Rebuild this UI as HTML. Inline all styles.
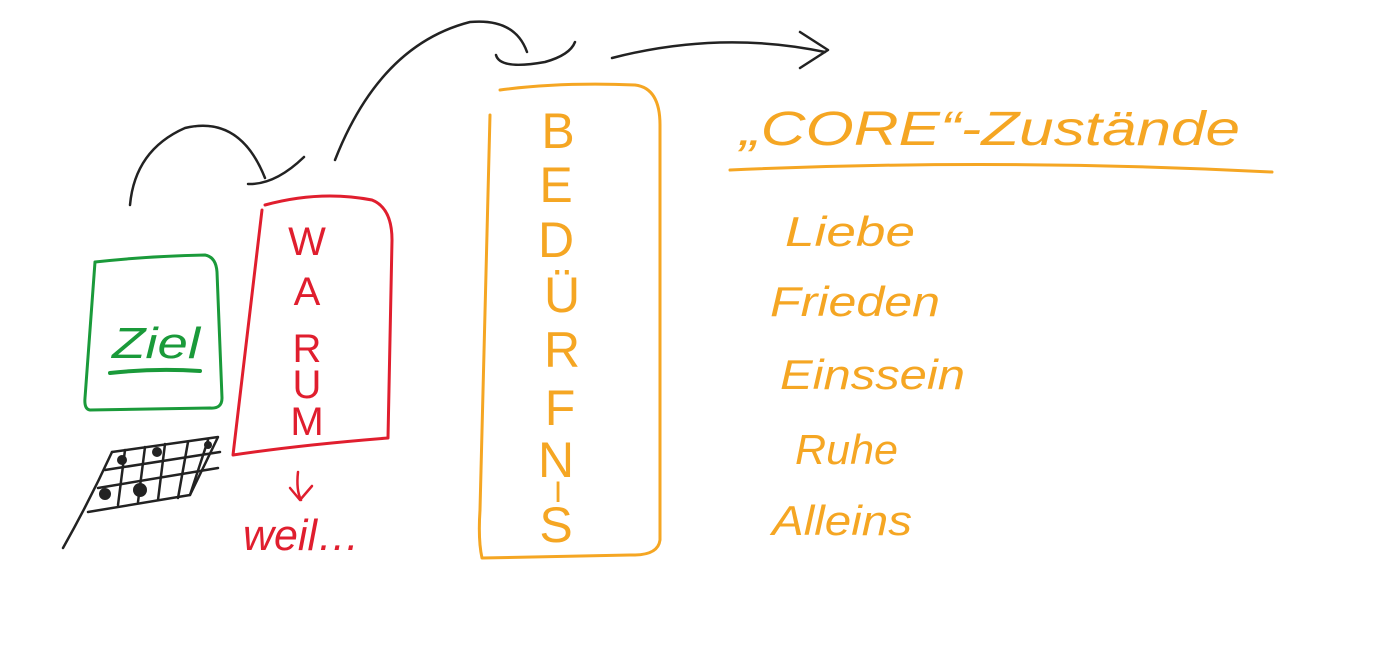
<!DOCTYPE html>
<html><head><meta charset="utf-8"><style>
html,body{margin:0;padding:0;background:#fff;width:1381px;height:649px;overflow:hidden}
svg{display:block}
text{font-family:"Liberation Sans",sans-serif}
</style></head><body>
<svg width="1381" height="649" viewBox="0 0 1381 649" xmlns="http://www.w3.org/2000/svg">
<g fill="none" stroke-linecap="round" stroke-linejoin="round">
<path d="M95,262 Q150,256 205,255 Q216,257 217,272 L222,398 Q222,409 210,408 L90,410 Q84,409 85,398 L95,262" stroke="#1a9a3a" stroke-width="3"/>
<path d="M110,373 Q155,368 200,371" stroke="#1a9a3a" stroke-width="4"/>
<path d="M265,205 Q320,190 372,200 Q392,208 392,240 L388,438 Q300,445 233,455 L262,210" stroke="#e01e2e" stroke-width="3"/>
<path d="M298,472 Q296,490 301,500 M290,488 L300,500 L312,486" stroke="#e01e2e" stroke-width="2.5"/>
<path d="M500,90 Q560,82 635,85 Q660,88 660,125 L660,540 Q658,556 630,555 L482,558 Q478,540 480,510 L490,115" stroke="#f5a623" stroke-width="3"/>
<path d="M730,170 Q1000,158 1272,172" stroke="#f5a623" stroke-width="3"/>
<path d="M130,205 Q135,150 185,128 Q240,115 265,178" stroke="#222" stroke-width="2.5"/>
<path d="M248,184 Q275,185 304,157" stroke="#222" stroke-width="2.5"/>
<path d="M335,160 Q380,45 470,22 Q515,18 527,52" stroke="#222" stroke-width="2.5"/>
<path d="M496,55 Q500,70 545,62 Q570,55 575,42" stroke="#222" stroke-width="2.5"/>
<path d="M612,58 Q720,30 825,52" stroke="#222" stroke-width="2.5"/>
<path d="M800,32 L828,50 L800,68" stroke="#222" stroke-width="2.5"/>
<g stroke="#222" stroke-width="2.5">
<path d="M63,548 Q90,500 112,452"/>
<path d="M112,452 L218,437 L190,495 L88,512"/>
<path d="M105,470 L220,452"/>
<path d="M98,488 L218,468"/>
<path d="M125,450 L118,505 M145,447 L138,502 M165,444 L158,500 M188,442 L178,498 M208,440 L190,495"/>
</g>
<g fill="#222"><circle cx="122" cy="460" r="5"/><circle cx="157" cy="452" r="5"/><circle cx="105" cy="494" r="6"/><circle cx="140" cy="490" r="7"/><circle cx="208" cy="445" r="4"/></g>
</g>
<text x="112" y="358" font-size="44" fill="#1a9a3a" font-style="italic" textLength="88" lengthAdjust="spacingAndGlyphs">Ziel</text>
<g fill="#e01e2e" font-size="40" text-anchor="middle">
<text x="307" y="255">W</text><text x="307" y="305">A</text><text x="307" y="362">R</text><text x="307" y="398">U</text><text x="307" y="435">M</text>
</g>
<text x="243" y="550" font-size="44" fill="#e01e2e" font-style="italic" textLength="117" lengthAdjust="spacingAndGlyphs">weil…</text>
<g fill="#f5a623" font-size="50" text-anchor="middle">
<text x="558" y="148">B</text><text x="556" y="202">E</text><text x="556" y="257">D</text><text x="562" y="312">Ü</text><text x="562" y="367">R</text><text x="560" y="425">F</text><text x="556" y="477">N</text><text x="558" y="502" font-size="30">I</text><text x="556" y="542">S</text>
</g>
<text x="740" y="145" font-size="48" fill="#f5a623" font-style="italic" textLength="500" lengthAdjust="spacingAndGlyphs">„CORE“-Zustände</text>
<g fill="#f5a623" font-size="42" font-style="italic">
<text x="785" y="246" textLength="130" lengthAdjust="spacingAndGlyphs">Liebe</text>
<text x="770" y="316" textLength="170" lengthAdjust="spacingAndGlyphs">Frieden</text>
<text x="780" y="389" textLength="185" lengthAdjust="spacingAndGlyphs">Einssein</text>
<text x="795" y="464" textLength="103" lengthAdjust="spacingAndGlyphs">Ruhe</text>
<text x="772" y="535" textLength="140" lengthAdjust="spacingAndGlyphs">Alleins</text>
</g>
</svg>
</body></html>
